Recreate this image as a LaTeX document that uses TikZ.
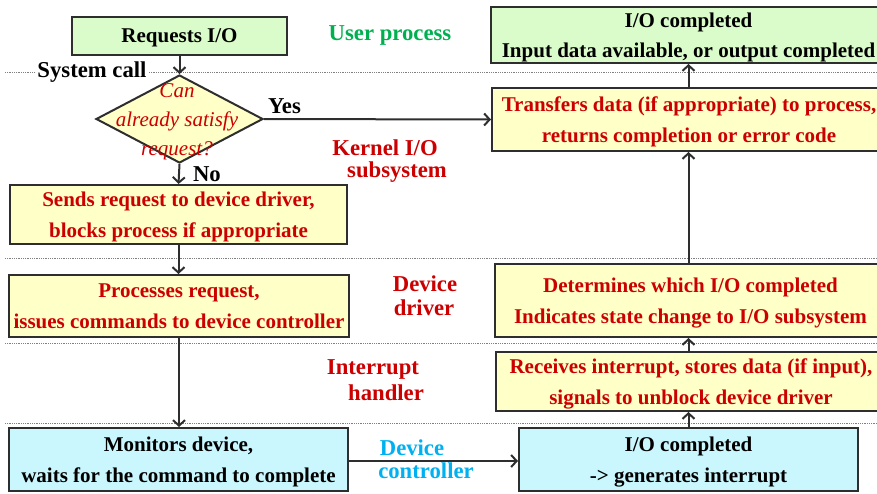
\documentclass[tikz,border=0pt]{standalone}
\usepackage{fontspec}
\setmainfont{Liberation Serif}[BoldFont={Liberation Serif Bold},ItalicFont={Liberation Serif Italic},BoldItalicFont={Liberation Serif Bold Italic}]
\usetikzlibrary{arrows.meta,shapes.geometric}
\definecolor{boxyellow}{HTML}{FFFFC8}
\definecolor{boxgreen}{HTML}{DAFBCA}
\definecolor{boxcyan}{HTML}{C9F7FD}
\definecolor{txtred}{HTML}{CC0000}
\definecolor{txtgreen}{HTML}{00B050}
\definecolor{txtblue}{HTML}{00B0F0}
\definecolor{edge}{HTML}{2E2E2E}
\begin{document}
\begin{tikzpicture}[x=1pt,y=-1pt,
  box/.style={draw=edge, line width=2pt, inner sep=0pt, align=center,
    text depth=-1pt, font=\fontsize{21}{30.5}\selectfont\bfseries},
  ybox/.style={box, fill=boxyellow, text=txtred},
  gbox/.style={box, fill=boxgreen, text=black},
  cbox/.style={box, fill=boxcyan, text=black},
  arr/.style={draw=edge, line width=2pt,
    -{Straight Barb[length=5.5pt,width=12pt,line width=2pt]}},
  sep/.style={draw=gray, line width=0.8pt, dash pattern=on 0.8pt off 1pt},
  lbl/.style={inner sep=0pt, font=\fontsize{22.7}{24}\selectfont\bfseries},
]
\useasboundingbox (0,0) rectangle (877,493);
\clip (0,0) rectangle (877,493);

% layer separators
\draw[sep] (5,72) -- (877,72);
\draw[sep] (5,258) -- (877,258);
\draw[sep] (5,343) -- (877,343);
\draw[sep] (5,423) -- (877,423);

% left column
\node[gbox, minimum width=215pt, minimum height=38pt] (req) at (179.5,36) {Requests I/O};
\node[draw=edge, line width=2pt, fill=boxyellow, shape=diamond, inner sep=0pt,
      minimum width=167pt, minimum height=88pt] (dia) at (179.5,119) {};
\node[inner sep=0pt, align=center, text=txtred,
      font=\fontsize{21}{29}\selectfont\itshape] (diatext) at (177,122)
      {Can\\already satisfy\\request?};
\node[ybox, minimum width=337pt, minimum height=59pt] (sends) at (178.5,214.5)
      {Sends request to device driver,\\blocks process if appropriate};
\node[ybox, minimum width=340pt, minimum height=62pt] (proc) at (179,306)
      {Processes request,\\issues commands to device controller};
\node[cbox, minimum width=339pt, minimum height=63pt] (mon) at (178.5,459.5)
      {Monitors device,\\waits for the command to complete};

% right column
\node[gbox, minimum width=395pt, minimum height=56pt] (done) at (688.5,35)
      {I/O completed\\Input data available, or output completed};
\node[ybox, minimum width=394pt, minimum height=63pt] (trans) at (689,119.5)
      {Transfers data (if appropriate) to process,\\returns completion or error code};
\node[ybox, minimum width=391pt, minimum height=73pt] (det) at (690.5,300.5)
      {Determines which I/O completed\\Indicates state change to I/O subsystem};
\node[ybox, minimum width=390pt, minimum height=59pt] (recv) at (691,381.5)
      {Receives interrupt, stores data (if input),\\signals to unblock device driver};
\node[cbox, minimum width=339pt, minimum height=63pt] (ioc) at (688.5,459.5)
      {I/O completed\\-> generates interrupt};

% layer names
\node[lbl, text=txtgreen] (lup) at (390,35) {User process};
\node[lbl, text=txtred] (lk1) at (385,148) {Kernel I/O};
\node[lbl, text=txtred] (lk2) at (397,172) {subsystem};
\node[lbl, text=txtred] (ld1) at (425,284) {Device};
\node[lbl, text=txtred] (ld2) at (424,308) {driver};
\node[lbl, text=txtred] (li1) at (373,369) {Interrupt};
\node[lbl, text=txtred] (li2) at (386,393) {handler};
\node[lbl, text=txtblue] (lc1) at (412,448) {Device};
\node[lbl, text=txtblue] (lc2) at (426,471) {controller};
\node[lbl, fill=white, inner sep=1pt] (lsys) at (92,72) {System call};

% connectors
\draw[arr] (req.south) -- (dia.north);
\draw[arr] (dia.east) -- (trans.west) node[lbl, pos=0.09, above=4pt] (yes) {Yes};
\draw[arr] (dia.south) -- (sends.north) node[lbl, midway, right=13pt] (no) {No};
\draw[arr] (sends.south) -- (sends.south |- proc.north);
\draw[arr] (proc.south) -- (proc.south |- mon.north);
\draw[arr] (mon.east |- 0,461) -- (ioc.west |- 0,461);
\draw[arr] (ioc.north) -- (ioc.north |- recv.south);
\draw[arr] (ioc.north |- recv.north) -- (ioc.north |- det.south);
\draw[arr] (ioc.north |- det.north) -- (ioc.north |- trans.south);
\draw[arr] (ioc.north |- trans.north) -- (ioc.north |- done.south);
\end{tikzpicture}
\end{document}
